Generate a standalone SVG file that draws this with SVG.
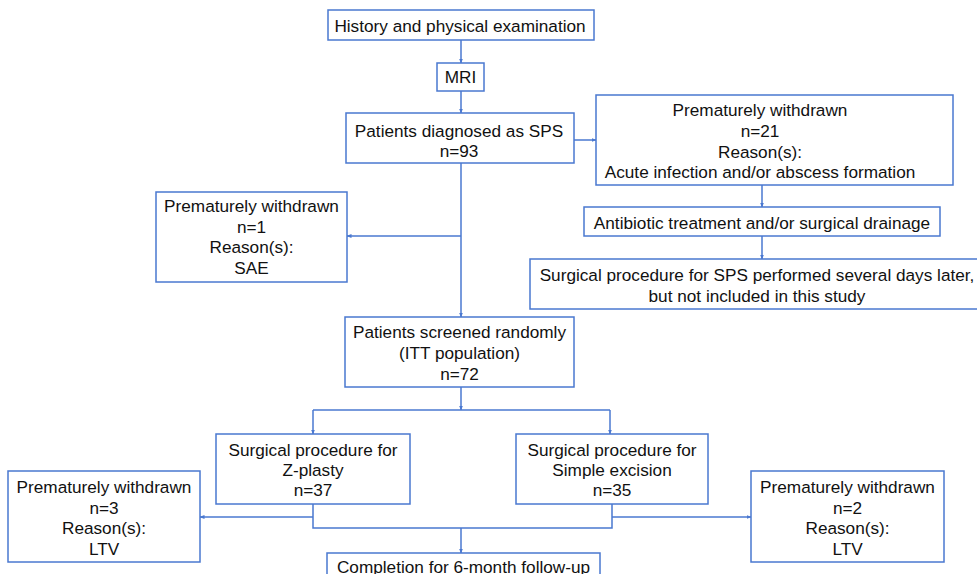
<svg xmlns="http://www.w3.org/2000/svg" width="977" height="574" viewBox="0 0 977 574">
<defs>
<marker id="ah" viewBox="0 0 10 10" refX="9" refY="5" markerWidth="5" markerHeight="5" orient="auto-start-reverse" markerUnits="userSpaceOnUse"><path d="M0,1 L10,5 L0,9 z" fill="#4a78d0"/></marker>
<style>
.b{fill:#fff;stroke:#4a78d0;stroke-width:1.5}
.t{font-family:"Liberation Sans",Arial,sans-serif;font-size:17.2px;fill:#111;text-anchor:middle}
.c{fill:none;stroke:#4a78d0;stroke-width:1.5}
.a{marker-end:url(#ah)}
</style>
</defs>
<rect width="977" height="574" fill="#fff"/>
<g id="connectors">
<path class="c a" d="M461,40 V63"/>
<path class="c a" d="M461,91 V113"/>
<path class="c a" d="M574,140 H596"/>
<path class="c a" d="M762,185 V207"/>
<path class="c a" d="M762,236 V259"/>
<path class="c a" d="M461,236 H347"/>
<path class="c a" d="M461,163 V317"/>
<path class="c a" d="M461,387 V410"/>
<path class="c" d="M313,410 H610"/>
<path class="c a" d="M313,410 V434"/>
<path class="c a" d="M610,410 V434"/>
<path class="c" d="M313,504 V528 H612 V504"/>
<path class="c a" d="M313,517 H200"/>
<path class="c a" d="M612,517 H751"/>
<path class="c a" d="M461,528 V553"/>
</g>
<g id="history"><rect class="b" x="328" y="10" width="266" height="30"/><text class="t" x="460" y="32">History and physical examination</text></g>
<g id="mri"><rect class="b" x="437" y="63" width="47" height="28"/><text class="t" x="460.5" y="83">MRI</text></g>
<g id="diagnosed"><rect class="b" x="346" y="113" width="228" height="50"/><text class="t" x="459" y="137">Patients diagnosed as SPS</text><text class="t" x="459" y="157">n=93</text></g>
<g id="withdrawn21"><rect class="b" x="596" y="95" width="357" height="90"/><text class="t" x="760" y="116">Prematurely withdrawn</text><text class="t" x="760" y="137">n=21</text><text class="t" x="760" y="158">Reason(s):</text><text class="t" x="760" y="178">Acute infection and/or abscess formation</text></g>
<g id="antibiotic"><rect class="b" x="584" y="207" width="356" height="29"/><text class="t" x="762" y="229">Antibiotic treatment and/or surgical drainage</text></g>
<g id="later"><rect class="b" x="530" y="259" width="460" height="50"/><text class="t" x="757" y="281">Surgical procedure for SPS performed several days later,</text><text class="t" x="757" y="302">but not included in this study</text></g>
<g id="withdrawn1"><rect class="b" x="156" y="192" width="191" height="90"/><text class="t" x="251.5" y="212">Prematurely withdrawn</text><text class="t" x="251.5" y="233">n=1</text><text class="t" x="251.5" y="253">Reason(s):</text><text class="t" x="251.5" y="274">SAE</text></g>
<g id="screened"><rect class="b" x="345" y="317" width="229" height="70"/><text class="t" x="459.5" y="338">Patients screened randomly</text><text class="t" x="459.5" y="359">(ITT population)</text><text class="t" x="459.5" y="380">n=72</text></g>
<g id="zplasty"><rect class="b" x="216" y="434" width="194" height="70"/><text class="t" x="313" y="456">Surgical procedure for</text><text class="t" x="313" y="476">Z-plasty</text><text class="t" x="313" y="496">n=37</text></g>
<g id="simple"><rect class="b" x="516" y="434" width="192" height="70"/><text class="t" x="612" y="456">Surgical procedure for</text><text class="t" x="612" y="476">Simple excision</text><text class="t" x="612" y="496">n=35</text></g>
<g id="withdrawn3"><rect class="b" x="8" y="471" width="192" height="91"/><text class="t" x="104" y="493">Prematurely withdrawn</text><text class="t" x="104" y="514">n=3</text><text class="t" x="104" y="534">Reason(s):</text><text class="t" x="104" y="555">LTV</text></g>
<g id="withdrawn2"><rect class="b" x="751" y="471" width="193" height="91"/><text class="t" x="847.5" y="493">Prematurely withdrawn</text><text class="t" x="847.5" y="514">n=2</text><text class="t" x="847.5" y="534">Reason(s):</text><text class="t" x="847.5" y="555">LTV</text></g>
<g id="completion"><rect class="b" x="327" y="553" width="273" height="40"/><text class="t" x="463.5" y="573">Completion for 6-month follow-up</text></g>
</svg>
